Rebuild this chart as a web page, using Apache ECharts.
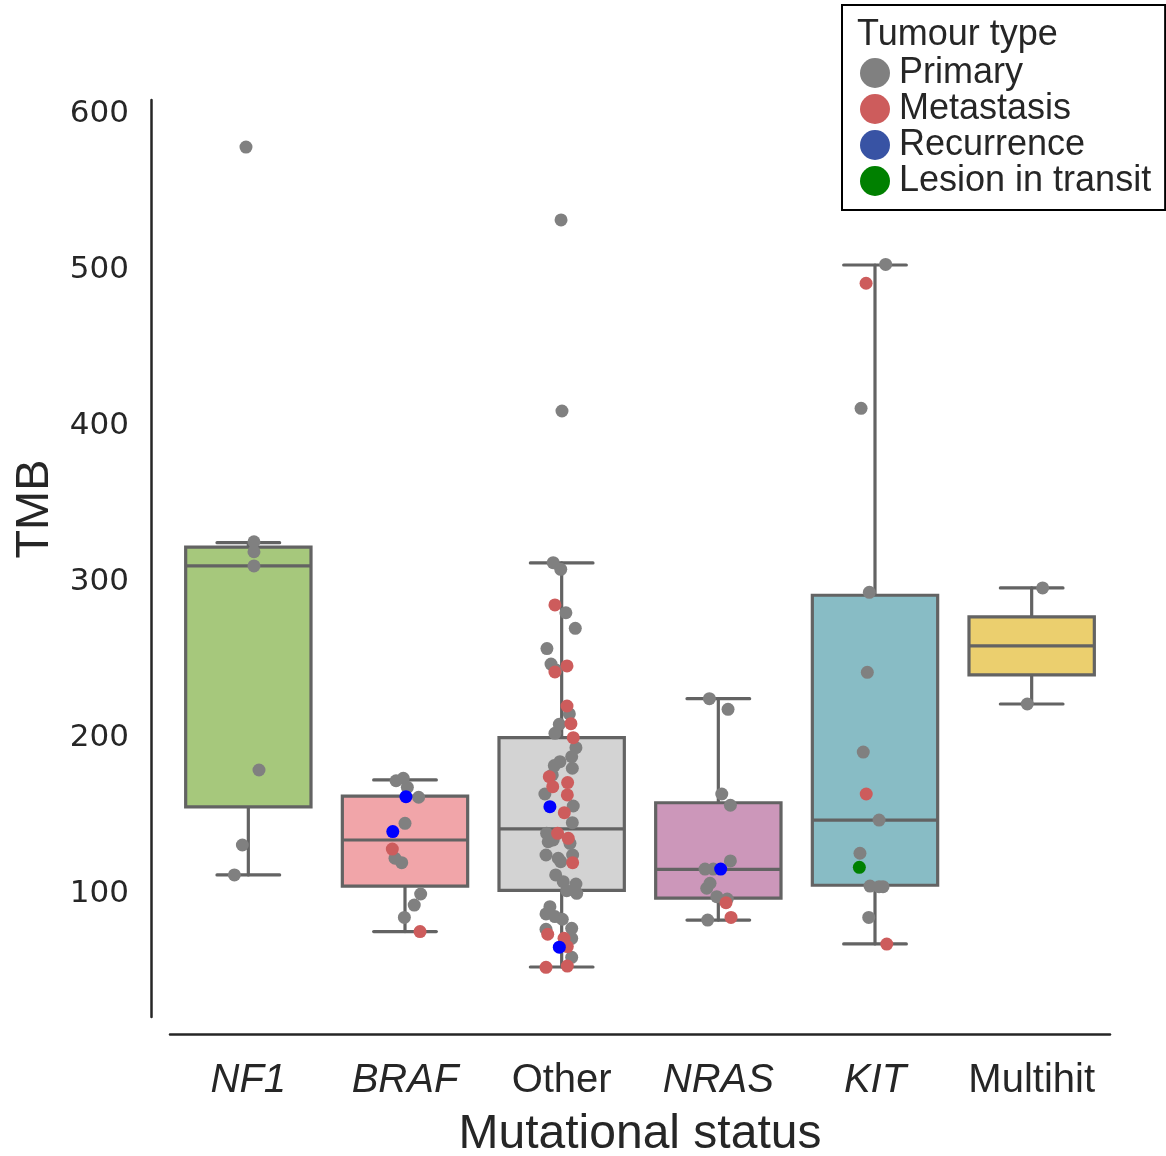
<!DOCTYPE html>
<html><head><meta charset="utf-8">
<script src="https://cdn.jsdelivr.net/npm/echarts@6/dist/echarts.min.js"></script>
<style>html,body{margin:0;padding:0;background:#fff}#c{width:1166px;height:1156px}</style>
</head><body><div id="c"></div>
<script>
// ---- data ----
const categories = ['NF1', 'BRAF', 'Other', 'NRAS', 'KIT', 'Multihit'];
const italicCategories = ['NF1', 'BRAF', 'NRAS', 'KIT'];
const tumourTypes = ['Primary', 'Metastasis', 'Recurrence', 'Lesion in transit'];
const yTicks = [100, 200, 300, 400, 500, 600];

// box statistics
const boxLow    = [112.2,  75.9,  53.2,  83.3,  68.0, 221.8];
const boxQ1     = [155.8, 105.1, 102.3,  97.3, 105.6, 240.4];
const boxMedian = [310.3, 134.6, 141.7, 115.8, 147.4, 259.0];
const boxQ3     = [322.4, 162.8, 200.2, 158.5, 291.5, 277.6];
const boxHigh   = [325.2, 173.1, 312.2, 225.2, 503.2, 296.2];

// strip points: [TMB, jitter (category units), tumour type P/M/R/L]
const ptsNF1 = [
  [578.8,-0.015,'P'],[325.8,0.036,'P'],[319.4,0.036,'P'],[310.3,0.036,'P'],
  [179.5,0.068,'P'],[131.4,-0.038,'P'],[112.2,-0.089,'P']
];
const ptsBRAF = [
  [172.6,-0.057,'P'],[174.2,-0.011,'P'],[168.4,0.015,'P'],[162.4,0.006,'R'],
  [162.0,0.087,'P'],[145.3,0.0,'P'],[140.0,-0.078,'R'],[128.8,-0.081,'M'],
  [122.9,-0.064,'P'],[120.1,-0.021,'P'],[100.0,0.1,'P'],[92.9,0.059,'P'],
  [85.0,-0.004,'P'],[75.9,0.096,'M']
];
const ptsOther = [
  [532.1,-0.004,'P'],[409.6,0.002,'P'],[312.4,-0.054,'P'],[308.1,-0.006,'P'],
  [280.3,0.027,'P'],[270.3,0.087,'P'],[257.3,-0.094,'P'],[247.4,-0.068,'P'],
  [243.6,-0.036,'P'],[215.4,0.049,'P'],[208.8,-0.015,'P'],[203.0,-0.043,'P'],
  [193.8,0.091,'P'],[188.0,0.064,'P'],[184.8,-0.011,'P'],[182.3,-0.047,'P'],
  [180.6,0.068,'P'],[176.3,-0.06,'P'],[164.1,-0.107,'P'],[156.4,0.074,'P'],
  [145.7,0.068,'P'],[138.9,-0.096,'P'],[134.6,-0.054,'P'],[133.5,-0.086,'P'],
  [132.5,0.053,'P'],[125.0,0.07,'P'],[125.0,-0.1,'P'],[122.9,-0.022,'P'],
  [120.7,-0.006,'P'],[112.2,-0.038,'P'],[107.9,0.01,'P'],[106.4,0.091,'P'],
  [102.1,0.032,'P'],[100.4,0.096,'P'],[91.9,-0.075,'P'],[87.2,-0.1,'P'],
  [85.5,-0.043,'P'],[83.8,0.004,'P'],[78.0,0.064,'P'],[77.4,-0.1,'P'],
  [71.6,0.064,'P'],[59.4,0.064,'P'],
  [285.3,-0.043,'M'],[246.2,0.034,'M'],[242.3,-0.043,'M'],[220.5,0.034,'M'],
  [209.2,0.059,'M'],[200.2,0.074,'M'],[175.2,-0.079,'M'],[171.4,0.038,'M'],
  [168.8,-0.057,'M'],[163.5,0.036,'M'],[152.1,0.017,'M'],[138.9,-0.026,'M'],
  [135.7,0.042,'M'],[120.1,0.07,'M'],[74.2,-0.089,'M'],[71.6,0.015,'M'],
  [66.3,0.036,'M'],[53.0,-0.1,'M'],[53.8,0.036,'M'],
  [156.0,-0.075,'R'],[65.9,-0.015,'R']
];
const ptsNRAS = [
  [225.2,-0.057,'P'],[218.4,0.062,'P'],[164.1,0.022,'P'],[156.9,0.077,'P'],
  [121.2,0.077,'P'],[116.0,-0.085,'P'],[116.0,-0.032,'P'],[116.0,0.015,'R'],
  [106.9,-0.053,'P'],[103.7,-0.074,'P'],[98.3,-0.01,'P'],[96.8,0.057,'P'],
  [94.4,0.049,'M'],[85.0,0.081,'M'],[83.3,-0.068,'P']
];
const ptsKIT = [
  [503.6,0.068,'P'],[491.5,-0.057,'M'],[411.3,-0.089,'P'],[293.4,-0.036,'P'],
  [242.1,-0.049,'P'],[191.0,-0.075,'P'],[164.1,-0.056,'M'],[147.4,0.026,'P'],
  [126.1,-0.096,'P'],[117.1,-0.1,'L'],[105.1,-0.032,'P'],[104.7,0.026,'P'],
  [104.7,0.051,'P'],[85.0,-0.04,'P'],[67.9,0.075,'M']
];
const ptsMultihit = [
  [296.2,0.07,'P'],[221.8,-0.028,'P']
];

// ---- styles ----
const boxFill = ['#a6c87c', '#f1a5a9', '#d3d3d3', '#cc97ba', '#88bcc5', '#ebcf6e'];
const lineGray = '#636363';
const typeCode = ['P', 'M', 'R', 'L'];
const typeColor = ['#808080', '#cd5c5c', '#0000ff', '#008000'];
const legendColor = ['#808080', '#cd5c5c', '#3853a4', '#008000'];
const textColor = '#262626';
const FONT = 'Liberation Sans';

const allPts = [ptsNF1, ptsBRAF, ptsOther, ptsNRAS, ptsKIT, ptsMultihit];

const scatterSeries = tumourTypes.map((name, t) => {
  const data = [];
  allPts.forEach((arr, ci) => {
    arr.forEach(p => { if (p[2] === typeCode[t]) data.push([ci + p[1], p[0]]); });
  });
  return {
    name, type: 'scatter', xAxisIndex: 1, yAxisIndex: 0,
    symbol: 'circle', symbolSize: 13,
    itemStyle: { color: typeColor[t], opacity: 1 },
    data, z: 5 + t
  };
});

const boxSeries = {
  type: 'custom', xAxisIndex: 0, yAxisIndex: 0, z: 2,
  data: categories.map((c, i) => [i, boxLow[i], boxQ1[i], boxMedian[i], boxQ3[i], boxHigh[i]]),
  encode: { x: 0, y: [1, 2, 3, 4, 5] },
  renderItem: (params, api) => {
    const i = api.value(0);
    const band = api.size([1, 0])[0];
    const half = band * 0.4;
    const cap = band * 0.2;
    const pLow = api.coord([i, api.value(1)]);
    const pQ1 = api.coord([i, api.value(2)]);
    const pMed = api.coord([i, api.value(3)]);
    const pQ3 = api.coord([i, api.value(4)]);
    const pHigh = api.coord([i, api.value(5)]);
    const cx = pLow[0];
    const ls = { stroke: lineGray, lineWidth: 3.2, lineCap: 'round' };
    return {
      type: 'group',
      children: [
        { type: 'line', shape: { x1: cx, y1: pLow[1], x2: cx, y2: pQ1[1] }, style: ls },
        { type: 'line', shape: { x1: cx, y1: pQ3[1], x2: cx, y2: pHigh[1] }, style: ls },
        { type: 'line', shape: { x1: cx - cap, y1: pLow[1], x2: cx + cap, y2: pLow[1] }, style: ls },
        { type: 'line', shape: { x1: cx - cap, y1: pHigh[1], x2: cx + cap, y2: pHigh[1] }, style: ls },
        { type: 'rect', shape: { x: cx - half, y: pQ3[1], width: 2 * half, height: pQ1[1] - pQ3[1] },
          style: { fill: boxFill[i], stroke: lineGray, lineWidth: 3.2 } },
        { type: 'line', shape: { x1: cx - half, y1: pMed[1], x2: cx + half, y2: pMed[1] },
          style: { stroke: lineGray, lineWidth: 3.2 } }
      ]
    };
  }
};

const chart = echarts.init(document.getElementById('c'), null, { renderer: 'canvas' });
chart.setOption({
  animation: false,
  backgroundColor: '#ffffff',
  title: {
    text: 'Tumour type', left: 857, top: 17, padding: 0, z: 10,
    textStyle: { fontFamily: FONT, fontSize: 36, fontWeight: 'normal', color: textColor }
  },
  legend: {
    orient: 'vertical', left: 842, top: 5,
    padding: [50, 14, 11, 18],
    backgroundColor: '#ffffff', borderColor: '#000000', borderWidth: 2, borderRadius: 0,
    itemWidth: 30, itemHeight: 30, itemGap: 0, icon: 'circle',
    textStyle: { fontFamily: FONT, fontSize: 36, color: textColor, padding: [0, 0, 0, 4] },
    data: tumourTypes.map((n, t) => ({ name: n, itemStyle: { color: legendColor[t] } }))
  },
  grid: { left: 170, top: 100, width: 940, height: 917, containLabel: false, outerBoundsMode: 'none' },
  xAxis: [
    {
      type: 'category', data: categories, position: 'bottom', offset: 17,
      boundaryGap: true,
      axisLine: { show: true, onZero: false, lineStyle: { color: textColor, width: 2.5 } },
      axisTick: { show: false },
      splitLine: { show: false },
      axisLabel: {
        margin: 27, interval: 0,
        formatter: v => italicCategories.includes(v) ? '{i|' + v + '}' : '{n|' + v + '}',
        rich: {
          i: { fontFamily: FONT, fontSize: 40, fontStyle: 'italic', color: textColor },
          n: { fontFamily: FONT, fontSize: 40, color: textColor }
        }
      },
      name: 'Mutational status', nameLocation: 'middle', nameGap: 77,
      nameTextStyle: { fontFamily: FONT, fontSize: 48, color: textColor }
    },
    { type: 'value', min: -0.5, max: 5.5, show: false }
  ],
  yAxis: [{
    type: 'value', min: 21.15, max: 608.97, offset: 19,
    axisLine: { show: true, onZero: false, lineStyle: { color: textColor, width: 2.5 } },
    axisTick: { show: false },
    splitLine: { show: false },
    axisLabel: {
      customValues: yTicks, margin: 22, padding: [5, 0, 0, 0],
      fontFamily: 'DejaVu Sans', fontSize: 31, color: textColor
    },
    name: 'TMB', nameLocation: 'middle', nameGap: 88,
    nameTextStyle: { fontFamily: FONT, fontSize: 47, color: textColor, padding: [0, 0, 0, 99] }
  }],
  series: [boxSeries].concat(scatterSeries)
});
</script>
</body></html>
